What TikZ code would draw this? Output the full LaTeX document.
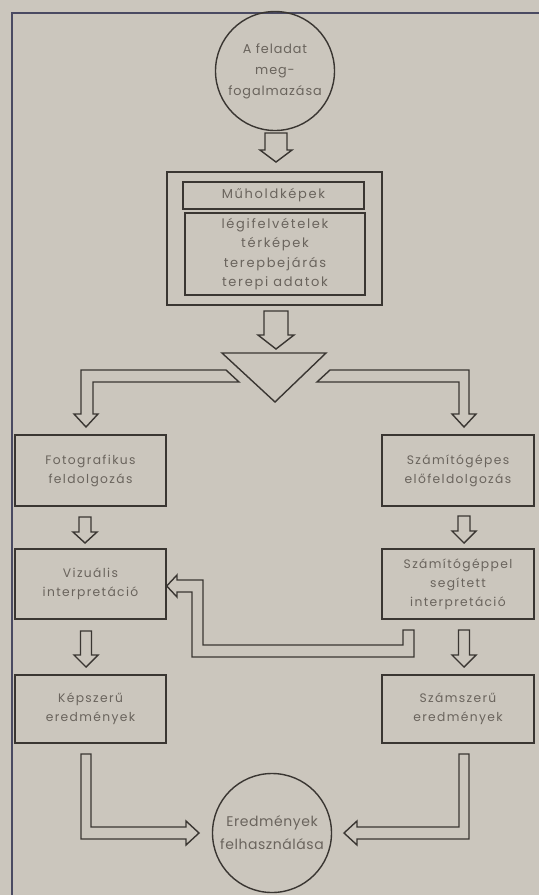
\documentclass[tikz,border=0pt]{standalone}
\usepackage{fontspec}
\setmainfont{Poppins}
\newfontfamily\boxfont{Poppins}[LetterSpace=11]
\newfontfamily\circfont{Poppins}[LetterSpace=4]
\newfontfamily\topfont{Poppins}[LetterSpace=7]
\newfontfamily\innfont{Poppins}[LetterSpace=13]
\usetikzlibrary{calc}
\definecolor{bg}{HTML}{CBC6BD}
\definecolor{ink}{HTML}{3A3632}
\definecolor{txt}{HTML}{6A645D}
\definecolor{frame}{HTML}{4A4A62}
\newcommand\hollowdown[6]{%
  \draw[blk] (#1-#5,#2) -- (#1+#5,#2) -- (#1+#5,#3) -- (#1+#6,#3) -- (#1,#4) -- (#1-#6,#3) -- (#1-#5,#3) -- cycle;}
\begin{document}
\begin{tikzpicture}[x=1pt,y=-1pt,
  blk/.style={draw=ink, line width=1.4pt, line join=miter},
  box/.style={draw=ink, line width=1.4pt, rectangle, inner sep=0pt, align=center,
    text=txt, font=\boxfont\fontsize{12.3}{19}\selectfont},
  inn/.style={box, font=\innfont\fontsize{13}{19.5}\selectfont},
  rnd/.style={draw=ink, line width=1.4pt, circle, inner sep=0pt, align=center,
    text=txt, font=\topfont\fontsize{12.8}{21}\selectfont, minimum size=119pt}]
\fill[bg] (0,0) rectangle (539,895);
\useasboundingbox (0,0) rectangle (539,895);
\draw[frame, line width=1.8pt] (12,895) -- (12,13) -- (539,13);

% top circle
\node[rnd] (task) at (275,71) {A feladat\\meg-\\fogalmazása};
\hollowdown{276}{133}{150}{162}{11}{16}

% data box
\node[box, minimum width=215pt, minimum height=133pt] (data) at (274.5,238.5) {};
\node[inn, minimum width=181pt, minimum height=27pt] (sat) at (273.5,195.5) {Műholdképek};
\node[inn, minimum width=180pt, minimum height=82pt] (other) at (275,254)
  {légifelvételek\\térképek\\terepbejárás\\terepi adatok};
\hollowdown{276}{311}{335}{349}{12}{18}

% triangle
\draw[blk] (222,353) coordinate (tl) -- (326,353) coordinate (tr) -- (275,402) coordinate (tb) -- cycle;

% split arrows
\draw[blk] (226,370) -- (81,370) -- (81,414) -- (74,414) -- (86,427) -- (98,414) -- (93,414) -- (93,382) -- (239,382) -- cycle;
\draw[blk] (330,370) -- (469,370) -- (469,414) -- (476,414) -- (464,427) -- (452,414) -- (459,414) -- (459,382) -- (317,382) -- cycle;

% rows
\node[box, minimum width=151pt, minimum height=71pt] (foto) at (90.5,470.5) {Fotografikus\\feldolgozás};
\node[box, minimum width=152pt, minimum height=71pt] (pre) at (458,470.5) {Számítógépes\\előfeldolgozás};
\hollowdown{85}{517}{532}{543}{6}{12}
\hollowdown{464}{516}{531}{543}{6}{12}

\node[box, minimum width=151pt, minimum height=70pt] (viz) at (90.5,584) {Vizuális\\interpretáció};
\node[box, minimum width=152pt, minimum height=70pt] (comp) at (458,584) {Számítógéppel\\segített\\interpretáció};

% feedback arrow
\draw[blk] (403,630) -- (414,630) -- (414,657) -- (192,657) -- (192,592) -- (177,592) -- (177,597) -- (viz.east |- 0,586) -- (177,575) -- (177,580) -- (203,580) -- (203,645) -- (403,645) -- cycle;

\hollowdown{86}{631}{655}{667}{5.5}{12}
\hollowdown{464}{630}{655}{667}{5.5}{12}

\node[box, minimum width=151pt, minimum height=68pt] (kep) at (90.5,709) {Képszerű\\eredmények};
\node[box, minimum width=152pt, minimum height=68pt] (szam) at (458,709) {Számszerű\\eredmények};

% bottom circle
\node[rnd, font=\circfont\fontsize{14}{23}\selectfont] (use) at (272,833) {Eredmények\\felhasználása};

\draw[blk] (81,754) -- (91,754) -- (91,827) -- (186,827) -- (186,821) -- (199,833) -- (186,845) -- (186,839) -- (81,839) -- cycle;
\draw[blk] (469,754) -- (459,754) -- (459,827) -- (357,827) -- (357,821) -- (344,833) -- (357,845) -- (357,839) -- (469,839) -- cycle;
\end{tikzpicture}
\end{document}
